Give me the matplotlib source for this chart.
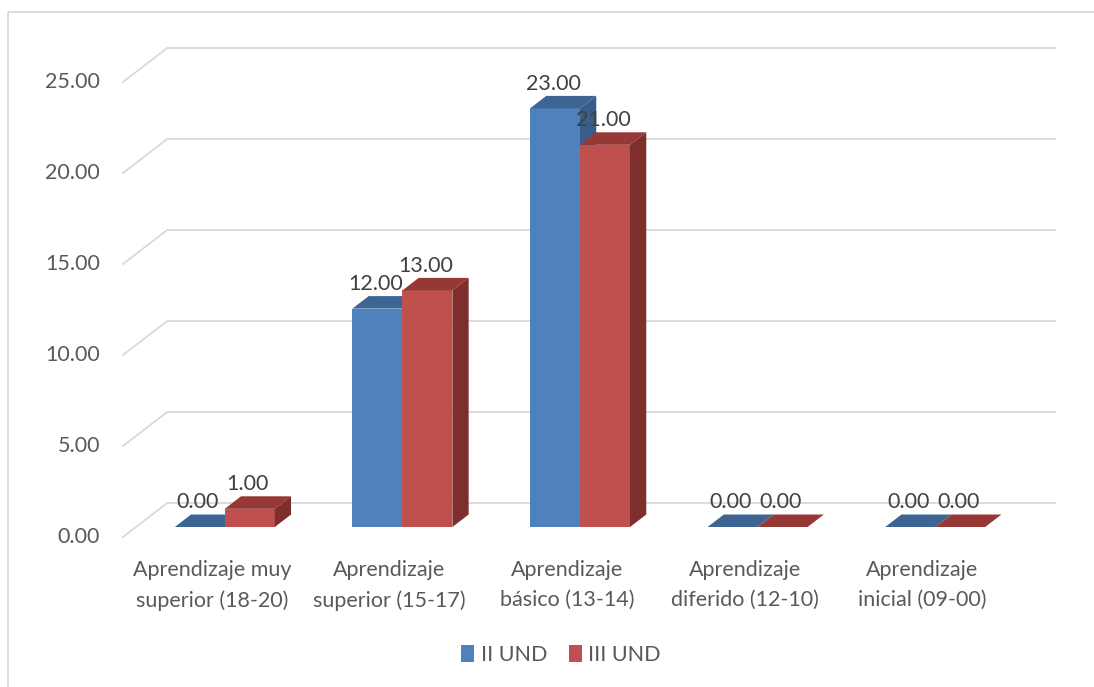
import matplotlib.pyplot as plt
from matplotlib.patches import Polygon, Patch
from matplotlib.lines import Line2D

# Data
categories = ["Aprendizaje muy\nsuperior (18-20)", "Aprendizaje\nsuperior (15-17)",
              "Aprendizaje\nbásico (13-14)", "Aprendizaje\ndiferido (12-10)",
              "Aprendizaje\ninicial (09-00)"]
ii_und = [0, 12, 23, 0, 0]
iii_und = [1, 13, 21, 0, 0]
series_names = ["II UND", "III UND"]
yticks = [0, 5, 10, 15, 20, 25]

# face colours: front, top, side
blue = ('#4F81BD', '#3C6593', '#385D8A')
red = ('#C0504D', '#963836', '#7E2E2C')

plt.rcParams['font.family'] = ['Lato', 'DejaVu Sans']
FS = 15.5

W, H, DPI = 1094, 687, 100
fig = plt.figure(figsize=(W / DPI, H / DPI), dpi=DPI)
ax = fig.add_axes([136 / W, 160 / H, 888 / W, 455 / H])
ax.set_xlim(-0.5, len(categories) - 0.5)
ax.set_ylim(0, 25)
ax.axis('off')

# pixel sizes in data units, used for the fake 3D depth
px_x = len(categories) / 888
px_y = 25 / 455
SLANT = 1.3


def shift(x, y, t):
    # move a point t pixels "into" the chart
    return x + SLANT * t * px_x, y + t * px_y


# walls: back gridlines and left diagonals
x_left, x_right = -0.5, len(categories) - 0.5
for v in yticks:
    a = shift(x_left, v, 24)
    b = shift(x_right, v, 24)
    c = shift(x_left, v, -10)
    ax.plot([c[0], a[0], b[0]], [c[1], a[1], b[1]], color='#D9D9D9', lw=1.3,
            zorder=0, clip_on=False, solid_joinstyle='miter')
    ax.text(c[0] - 23 * px_x, c[1], f"{v:.2f}", ha='right', va='center',
            fontsize=FS, color='#595959')

# bars
bw = 50 / 177.6
D = 12.5
for s, (vals, cols) in enumerate([(ii_und, blue), (iii_und, red)]):
    x0s = [i - bw + s * bw for i in range(len(categories))]
    ax.bar(x0s, vals, width=bw, align='edge', color=cols[0], zorder=2 + s,
           linewidth=0)
    for x0, v in zip(x0s, vals):
        x1 = x0 + bw
        top = [(x0, v), (x1, v), shift(x1, v, D), shift(x0, v, D)]
        ax.add_patch(Polygon(top, closed=True, facecolor=cols[1], lw=0,
                             zorder=2 + s, clip_on=False))
        if v > 0:
            side = [(x1, 0), shift(x1, 0, D), shift(x1, v, D), (x1, v)]
            ax.add_patch(Polygon(side, closed=True, facecolor=cols[2], lw=0,
                                 zorder=2 + s, clip_on=False))
        ax.text((x0 + x1) / 2 - 2 * px_x, v + (D + 6) * px_y, f"{v:.2f}",
                ha='center', va='baseline', fontsize=FS, color='#404040',
                zorder=5)

# category labels
for i, lab in enumerate(categories):
    ax.text(i - 13 * px_x, -33 * px_y, lab, ha='center', va='top',
            fontsize=FS, color='#595959', linespacing=1.6)

# legend
handles = [Patch(facecolor=blue[0]), Patch(facecolor=red[0])]
fig.legend(handles, series_names, loc='center', bbox_to_anchor=(561 / W, 1 - 655 / H),
           ncol=2, frameon=False, handlelength=0.6, handleheight=0.8,
           handletextpad=0.3, columnspacing=1.0, fontsize=FS,
           labelcolor='#595959')

# chart frame (left and top edges)
fig.add_artist(Line2D([8 / W, 8 / W, 1], [0, 1 - 12 / H, 1 - 12 / H],
                      color='#D9D9D9', lw=1.3, transform=fig.transFigure))

fig.savefig('out.png', dpi=DPI)
